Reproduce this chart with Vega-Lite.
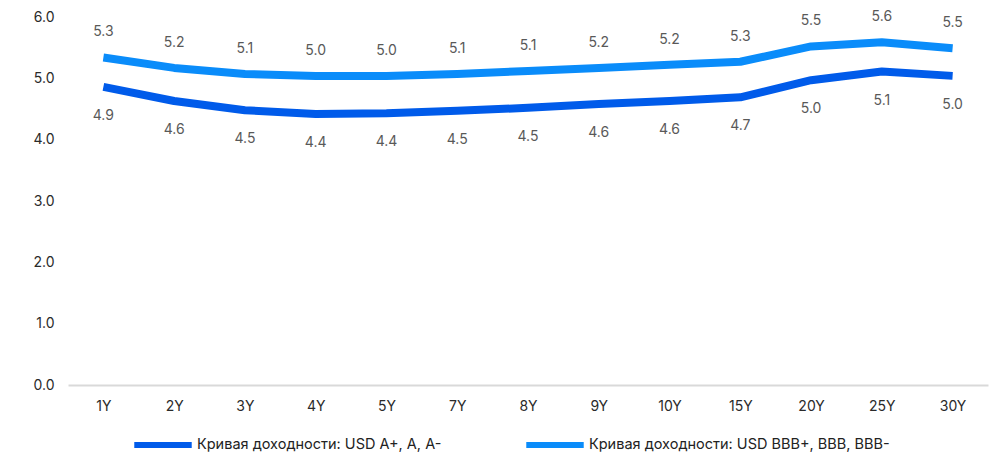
{
  "$schema": "https://vega.github.io/schema/vega-lite/v6.json",
  "width": 920,
  "height": 368,
  "autosize": {"type": "none"},
  "padding": {"left": 68, "top": 17, "right": 12, "bottom": 70},
  "background": "white",
  "config": {
    "font": "Inter",
    "view": {"stroke": null},
    "axis": {"labelFont": "Inter", "labelFontSize": 14, "labelColor": "#2a2a2a", "grid": false, "ticks": false, "title": null}
  },
  "data": {
    "values": [
      {"tenor": "1Y", "series": "Кривая доходности: USD A+, A, A-", "value": 4.86},
      {"tenor": "2Y", "series": "Кривая доходности: USD A+, A, A-", "value": 4.63},
      {"tenor": "3Y", "series": "Кривая доходности: USD A+, A, A-", "value": 4.48},
      {"tenor": "4Y", "series": "Кривая доходности: USD A+, A, A-", "value": 4.42},
      {"tenor": "5Y", "series": "Кривая доходности: USD A+, A, A-", "value": 4.43},
      {"tenor": "7Y", "series": "Кривая доходности: USD A+, A, A-", "value": 4.47},
      {"tenor": "8Y", "series": "Кривая доходности: USD A+, A, A-", "value": 4.52},
      {"tenor": "9Y", "series": "Кривая доходности: USD A+, A, A-", "value": 4.58},
      {"tenor": "10Y", "series": "Кривая доходности: USD A+, A, A-", "value": 4.63},
      {"tenor": "15Y", "series": "Кривая доходности: USD A+, A, A-", "value": 4.69},
      {"tenor": "20Y", "series": "Кривая доходности: USD A+, A, A-", "value": 4.97},
      {"tenor": "25Y", "series": "Кривая доходности: USD A+, A, A-", "value": 5.11},
      {"tenor": "30Y", "series": "Кривая доходности: USD A+, A, A-", "value": 5.04},
      {"tenor": "1Y", "series": "Кривая доходности: USD BBB+, BBB, BBB-", "value": 5.34},
      {"tenor": "2Y", "series": "Кривая доходности: USD BBB+, BBB, BBB-", "value": 5.17},
      {"tenor": "3Y", "series": "Кривая доходности: USD BBB+, BBB, BBB-", "value": 5.07},
      {"tenor": "4Y", "series": "Кривая доходности: USD BBB+, BBB, BBB-", "value": 5.04},
      {"tenor": "5Y", "series": "Кривая доходности: USD BBB+, BBB, BBB-", "value": 5.04},
      {"tenor": "7Y", "series": "Кривая доходности: USD BBB+, BBB, BBB-", "value": 5.07},
      {"tenor": "8Y", "series": "Кривая доходности: USD BBB+, BBB, BBB-", "value": 5.12},
      {"tenor": "9Y", "series": "Кривая доходности: USD BBB+, BBB, BBB-", "value": 5.17},
      {"tenor": "10Y", "series": "Кривая доходности: USD BBB+, BBB, BBB-", "value": 5.22},
      {"tenor": "15Y", "series": "Кривая доходности: USD BBB+, BBB, BBB-", "value": 5.27},
      {"tenor": "20Y", "series": "Кривая доходности: USD BBB+, BBB, BBB-", "value": 5.52},
      {"tenor": "25Y", "series": "Кривая доходности: USD BBB+, BBB, BBB-", "value": 5.59},
      {"tenor": "30Y", "series": "Кривая доходности: USD BBB+, BBB, BBB-", "value": 5.49}
    ]
  },
  "encoding": {
    "x": {
      "field": "tenor", "type": "ordinal",
      "sort": ["1Y","2Y","3Y","4Y","5Y","7Y","8Y","9Y","10Y","15Y","20Y","25Y","30Y"],
      "scale": {"paddingInner": 0, "paddingOuter": 0.5},
      "axis": {"labelAngle": 0, "labelPadding": 14, "domainColor": "#d9d9d9", "domainWidth": 2}
    },
    "y": {
      "field": "value", "type": "quantitative",
      "scale": {"domain": [0, 6], "nice": false, "zero": true},
      "axis": {"values": [0,1,2,3,4,5,6], "format": ".1f", "domain": false, "labelPadding": 14}
    }
  },
  "layer": [
    {
      "mark": {"type": "line", "strokeWidth": 8, "interpolate": "linear", "strokeJoin": "round"},
      "encoding": {
        "color": {
          "field": "series", "type": "nominal",
          "scale": {"domain": ["Кривая доходности: USD A+, A, A-", "Кривая доходности: USD BBB+, BBB, BBB-"], "range": ["#005BEA", "#0A8CFA"]},
          "legend": {
            "orient": "none", "direction": "horizontal", "title": null,
            "legendX": 63, "legendY": 396,
            "symbolType": "stroke", "symbolSize": 3300, "symbolStrokeWidth": 6,
            "labelFont": "Inter", "labelFontSize": 14.5, "labelColor": "#222222",
            "labelOffset": 2, "columnPadding": 72, "labelLimit": 400
          }
        }
      }
    },
    {
      "transform": [{"filter": "datum.series == 'Кривая доходности: USD BBB+, BBB, BBB-'"}],
      "mark": {"type": "text", "dy": -25, "fontSize": 14, "color": "#595959", "font": "Inter"},
      "encoding": {"text": {"field": "value", "type": "quantitative", "format": ".1f"}}
    },
    {
      "transform": [{"filter": "datum.series == 'Кривая доходности: USD A+, A, A-'"}],
      "mark": {"type": "text", "dy": 29, "fontSize": 14, "color": "#595959", "font": "Inter"},
      "encoding": {"text": {"field": "value", "type": "quantitative", "format": ".1f"}}
    }
  ]
}
